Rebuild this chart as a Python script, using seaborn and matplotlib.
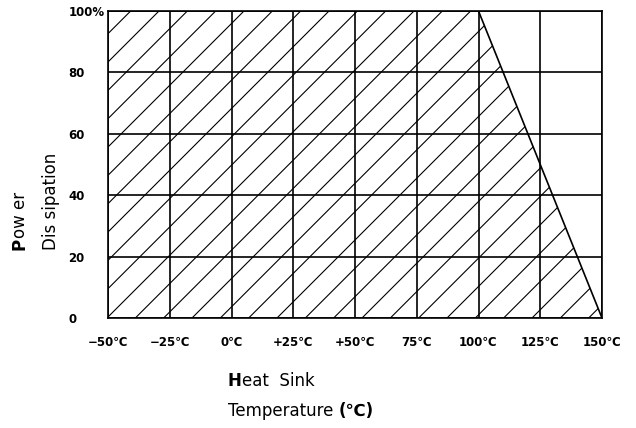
import matplotlib
matplotlib.use("Agg")
import matplotlib.pyplot as plt
import seaborn as sns
import pandas as pd

# Data
temps = [-50, 100, 150]
power = [100, 100, 0]
x_ticks = [-50, -25, 0, 25, 50, 75, 100, 125, 150]
x_labels = ["−50℃", "−25℃", "0℃", "+25℃", "+50℃", "75℃", "100℃", "125℃", "150℃"]
y_ticks = [0, 20, 40, 60, 80, 100]
y_labels = ["0", "20", "40", "60", "80", "100%"]

DPI = 85
k = 100 / DPI  # keep pixel sizes as if at 100 dpi

sns.set_style("white")
plt.rcParams['font.family'] = ['DejaVu Sans']
plt.rcParams['text.color'] = 'black'
plt.rcParams['xtick.color'] = 'black'
plt.rcParams['ytick.color'] = 'black'
plt.rcParams['hatch.linewidth'] = 0.8 * k
plt.rcParams['hatch.color'] = 'black'

fig = plt.figure(figsize=(636 / DPI, 428 / DPI), dpi=DPI)
ax = fig.add_axes([108/636, 1-318/428, (602-108)/636, (318-11)/428])

df = pd.DataFrame({"temp": temps, "power": power})
ax.fill_between(df["temp"], 0, df["power"], facecolor="white", edgecolor="black",
                hatch="/", linewidth=0)
sns.lineplot(data=df, x="temp", y="power", ax=ax, color="black", linewidth=1.2 * k)

ax.set_xlim(-50, 150)
ax.set_ylim(0, 100)
ax.set_xticks(x_ticks)
ax.set_yticks(y_ticks)
ax.set_xticklabels(x_labels, fontsize=8.5 * k, fontweight="bold", color="black")
ax.set_yticklabels(y_labels, fontsize=8.5 * k, fontweight="bold", ha="left", color="black")
ax.tick_params(axis="x", length=0, pad=13 * k)
ax.tick_params(axis="y", length=0, pad=28.5 * k)
ax.grid(True, color="black", linewidth=1.2 * k)
ax.set_axisbelow(False)
for s in ax.spines.values():
    s.set_color("black")
    s.set_linewidth(1.2 * k)
ax.set_xlabel("")
ax.set_ylabel("")

fs = 12 * k
# X axis label
tH = fig.text(228/636, 1-390/428, "H", fontsize=fs, fontweight="bold", ha="left", va="bottom")
ax.annotate("eat  Sink", xy=(1, 0), xycoords=tH, fontsize=fs, ha="left", va="bottom")
tT = fig.text(228/636, 1-420/428, "Temperature ", fontsize=fs, ha="left", va="bottom")
ax.annotate("(℃)", xy=(1, 0), xycoords=tT, fontsize=fs, fontweight="bold", ha="left", va="bottom")

# Y axis label
tP = fig.text(11/636, 1-250/428, "P", fontsize=fs, fontweight="bold", rotation=90,
              ha="left", va="bottom")
ax.annotate("ow er", xy=(0, 1), xycoords=tP, fontsize=fs, rotation=90, ha="left", va="bottom")
fig.text(42/636, 1-250/428, "Dis sipation", fontsize=fs, rotation=90, ha="left", va="bottom")

fig.savefig("out.png", dpi=DPI)
